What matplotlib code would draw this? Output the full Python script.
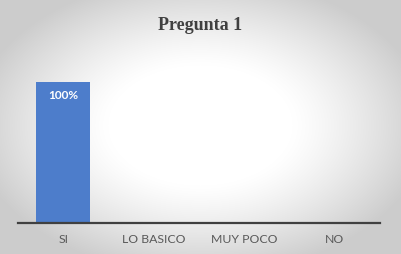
import numpy as np
import matplotlib
matplotlib.use("Agg")
import matplotlib.pyplot as plt

categories = ["SI", "LO BASICO", "MUY POCO", "NO"]
values = [1.0, 0.0, 0.0, 0.0]
labels = ["100%", "", "", ""]
title = "Pregunta 1"

W, H = 401, 254
fig = plt.figure(figsize=(W / 100, H / 100), dpi=100)

# radial gradient background
bg = fig.add_axes([0, 0, 1, 1])
yy, xx = np.mgrid[0:H, 0:W]
cx, cy = 200, 125
r = np.sqrt(((xx - cx) / 230.0) ** 2 + ((yy - cy) / 150.0) ** 2)
g = np.clip(1.0 - 0.2 * np.clip((r - 0.4) / 0.6, 0, 1) ** 1.2, 0, 1)
img = np.dstack([g, g, g])
bg.imshow(img, aspect="auto", extent=[0, 1, 0, 1], zorder=0)
bg.set_axis_off()

ax = fig.add_axes([18 / W, (H - 223) / H, (380 - 18) / W, 169 / H])
ax.set_facecolor("none")
x = np.arange(len(categories))
bars = ax.bar(x, values, width=0.6, color="#4D7DCB", zorder=2)
for xi, v, lab in zip(x, values, labels):
    if lab:
        ax.text(xi, v - 0.055, lab, ha="center", va="top", color="white",
                fontsize=8.5, fontweight="bold", family="Lato")
ax.set_xlim(-0.5, len(categories) - 0.5)
ax.set_ylim(0, 1.2)
ax.set_yticks([])
ax.set_xticks(x)
ax.set_xticklabels(categories, fontsize=8.8, color="#595959", family="Lato")
ax.tick_params(axis="x", length=0, pad=8)
for s in ["top", "right", "left"]:
    ax.spines[s].set_visible(False)
ax.spines["bottom"].set_color("#404040")
ax.spines["bottom"].set_linewidth(1.6)

fig.text(0.5, 1 - 25 / H, title, ha="center", va="center", fontsize=13,
         fontweight="bold", family="Liberation Serif", color="#404040")

fig.savefig("out.png", dpi=100)
